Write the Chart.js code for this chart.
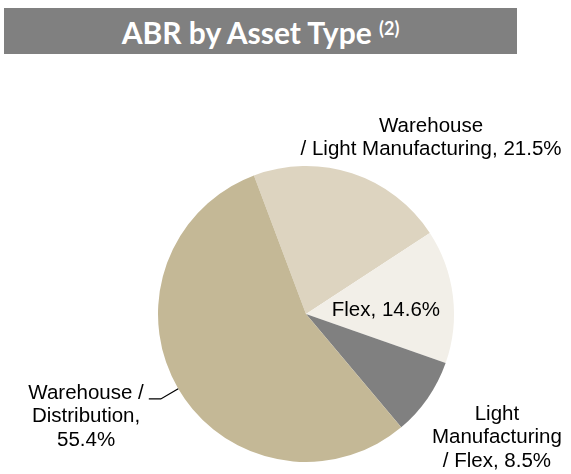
<!DOCTYPE html>
<html>
<head>
<meta charset="utf-8">
<script src="https://cdn.jsdelivr.net/npm/chart.js@4"></script>
<style>
  html, body { margin: 0; padding: 0; background: #ffffff; }
  #wrap { position: relative; width: 571px; height: 474px; }
  #title {
    position: absolute; left: 4px; top: 8px; width: 513px; height: 46px;
    background: #808080; color: #ffffff;
    font-family: Lato, "DejaVu Sans", sans-serif; font-weight: bold; font-size: 30px;
    text-align: center; line-height: 48px; z-index: 2;
  }
  #title .sup { font-size: 18px; position: relative; top: -9px; vertical-align: baseline; }
  canvas { position: absolute; left: 0; top: 0; }
</style>
</head>
<body>
<div id="wrap">
  <div id="title">ABR by Asset Type <span class="sup">(2)</span></div>
  <canvas id="c" width="571" height="474"></canvas>
</div>
<script>
const categories = ['Warehouse / Light Manufacturing', 'Flex', 'Light Manufacturing / Flex', 'Warehouse / Distribution'];
const values = [21.5, 14.6, 8.5, 55.4];
const colors = ['#DDD4C0', '#F2EFE8', '#808080', '#C4B896'];
const labelLines = [
  ['Warehouse', '/ Light Manufacturing, ' + values[0].toFixed(1) + '%'],
  ['Flex, ' + values[1].toFixed(1) + '%'],
  ['Light', 'Manufacturing', '/ Flex, ' + values[2].toFixed(1) + '%'],
  ['Warehouse /', 'Distribution,', values[3].toFixed(1) + '%']
];
// label anchor offsets relative to pie center, in units of radius
const labelOffsets = [[0.845, -1.23], [0.54, 0.014], [1.29, 0.716], [-1.486, 0.574]];
const leaderSlices = [3];

const labelPlugin = {
  id: 'pieLabels',
  afterDraw(chart) {
    const ctx = chart.ctx;
    const arcs = chart.getDatasetMeta(0).data;
    ctx.save();
    ctx.font = '20.5px "Liberation Sans", Arial, sans-serif';
    ctx.fillStyle = '#000000';
    ctx.textAlign = 'center';
    ctx.textBaseline = 'alphabetic';
    arcs.forEach((arc, i) => {
      const r = arc.outerRadius;
      const ax = arc.x + labelOffsets[i][0] * r;
      const ay = arc.y + labelOffsets[i][1] * r;
      labelLines[i].forEach((ln, k) => ctx.fillText(ln, ax, ay + k * 23.5));
      if (leaderSlices.includes(i)) {
        const mid = (arc.startAngle + arc.endAngle) / 2;
        const ex = arc.x + Math.cos(mid) * r;
        const ey = arc.y + Math.sin(mid) * r;
        const w = ctx.measureText(labelLines[i][0]).width;
        const lx = ax + w / 2 + 5;
        const ly = ay;
        ctx.beginPath();
        ctx.strokeStyle = '#000000';
        ctx.lineWidth = 1.3;
        ctx.moveTo(lx, ly);
        ctx.lineTo(lx + 12, ly);
        ctx.lineTo(ex, ey);
        ctx.stroke();
      }
    });
    ctx.restore();
  }
};

new Chart(document.getElementById('c'), {
  type: 'pie',
  data: {
    labels: categories,
    datasets: [{ data: values, backgroundColor: colors, borderWidth: 0 }]
  },
  options: {
    responsive: false,
    animation: false,
    rotation: -20.6,
    layout: { padding: { top: 166, left: 158, right: 117, bottom: 12 } },
    plugins: { legend: { display: false }, tooltip: { enabled: false }, title: { display: false } }
  },
  plugins: [labelPlugin]
});
</script>
</body>
</html>
